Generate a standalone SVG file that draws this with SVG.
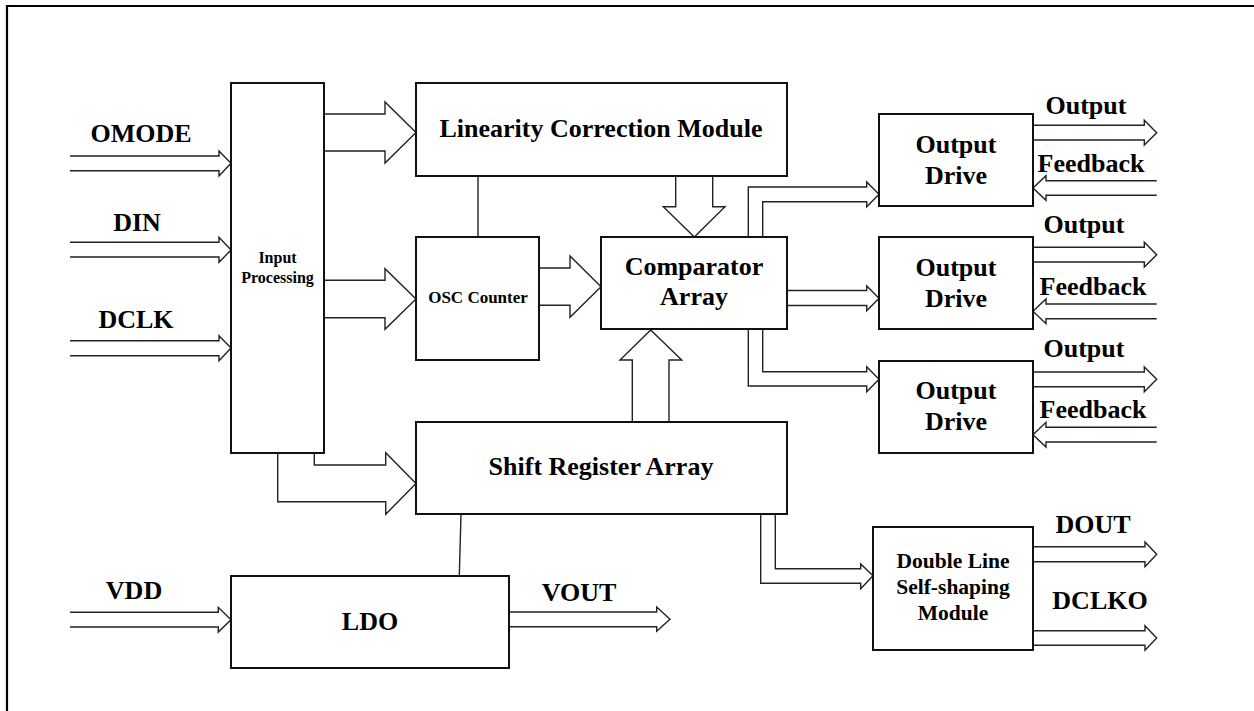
<svg xmlns="http://www.w3.org/2000/svg" width="1254" height="711" viewBox="0 0 1254 711">
<style>
.box{fill:#fff;stroke:#111;stroke-width:2}
.arr{fill:none;stroke:#222;stroke-width:1.4;stroke-linejoin:miter}
.ln{fill:none;stroke:#222;stroke-width:1.4}
text{font-family:"Liberation Serif","Times New Roman",serif;font-weight:bold;fill:#000;text-anchor:middle}
.t26{font-size:26px}
.t17{font-size:17px}
.t16{font-size:16px}
.t21{font-size:21.5px}
</style>
<rect width="1254" height="711" fill="#fff"/>
<path d="M7,711 V6 H1254" fill="none" stroke="#000" stroke-width="2.2"/>

<g id="connectors">
<path class="arr" d="M70,156 H219 V151 L231,163.3 L219,176 V170.7 H70"/>
<path class="arr" d="M70,242.3 H219 V237.3 L231,250 L219,262.3 V257 H70"/>
<path class="arr" d="M70,340.7 H219 V335.7 L231,348 L219,360.7 V355.7 H70"/>
<path class="arr" d="M324,114 H385 V102 L416,132.5 L385,163 V151 H324"/>
<path class="arr" d="M324,280.3 H385 V268.7 L416,299 L385,329.3 V317.7 H324"/>
<path class="arr" d="M314.3,453 V465 H385.7 V452.7 L416,483.5 L385.7,514.3 V501.7 H277.7 V453"/>
<path class="arr" d="M675.7,176 V206.7 H663.3 L694.3,237 L725,206.7 H712.7 V176"/>
<path class="arr" d="M539,268 H570 V256 L601,286.7 L570,317.3 V305.3 H539"/>
<path class="arr" d="M632.3,422 V360 H620 L650.7,330 L681.7,360 H669 V422"/>
<path class="arr" d="M748.3,237 V187 H866.7 V182 L879,194.3 L866.7,206.7 V201.7 H762.7 V237"/>
<path class="arr" d="M787,290.5 H866.7 V286 L879,298.3 L866.7,310.7 V305.5 H787"/>
<path class="arr" d="M762.7,329.3 V371.7 H866.7 V366.7 L879,379.3 L866.7,391.7 V386 H748.3 V329.3"/>
<path class="arr" d="M1033,125.3 H1144.3 V120.3 L1156.7,132.7 L1144.3,145 V140 H1033"/>
<path class="arr" d="M1033,247.3 H1144.3 V242.3 L1156.7,254.7 L1144.3,267 V262 H1033"/>
<path class="arr" d="M1033,372 H1144.3 V367 L1156.7,379.3 L1144.3,391.7 V386.7 H1033"/>
<path class="arr" d="M1156.7,180.7 H1046 V175.7 L1033,188 L1046,200.3 V195.3 H1156.7"/>
<path class="arr" d="M1156.7,304 H1046 V299 L1033,311.3 L1046,323.7 V318.7 H1156.7"/>
<path class="arr" d="M1156.7,427.3 H1046 V422.3 L1033,434.7 L1046,447 V442 H1156.7"/>
<path class="arr" d="M775.3,514.3 V568.7 H860.7 V564 L873,575.7 L860.7,588.7 V583.3 H760.7 V514.3"/>
<path class="arr" d="M1033,546.7 H1145 V542 L1156.7,554.3 L1145,566.7 V561.7 H1033"/>
<path class="arr" d="M1033,630.7 H1145 V625.7 L1156.7,638 L1145,650.3 V645.3 H1033"/>
<path class="arr" d="M70,612.3 H218.3 V607.3 L231,619.7 L218.3,632 V627 H70"/>
<path class="arr" d="M509,612 H656.7 V607 L670,619.3 L656.7,631.3 V626.7 H509"/>
<path class="ln" d="M478,176 V237"/>
<path class="ln" d="M461,514.3 L459.3,575.7"/>
</g>

<g id="labels">
<text class="t26" x="141" y="142">OMODE</text>
<text class="t26" x="137" y="231">DIN</text>
<text class="t26" x="136" y="328">DCLK</text>
<text class="t26" x="134" y="599">VDD</text>
<text class="t26" x="579" y="601">VOUT</text>
<text class="t26" x="1086" y="114">Output</text>
<text class="t26" x="1091" y="172">Feedback</text>
<text class="t26" x="1084" y="233">Output</text>
<text class="t26" x="1093" y="295">Feedback</text>
<text class="t26" x="1084" y="357">Output</text>
<text class="t26" x="1093" y="418">Feedback</text>
<text class="t26" x="1093" y="533">DOUT</text>
<text class="t26" x="1100" y="609">DCLKO</text>
</g>

<g id="input-processing">
<rect class="box" x="231" y="83" width="93" height="370"/>
<text class="t16" x="277.5" y="263">Input</text>
<text class="t16" x="277.5" y="283">Processing</text>
</g>
<g id="linearity-correction">
<rect class="box" x="416" y="83" width="371" height="93"/>
<text class="t26" x="601" y="137">Linearity Correction Module</text>
</g>
<g id="osc-counter">
<rect class="box" x="416" y="237" width="123" height="123"/>
<text class="t17" x="478" y="303">OSC Counter</text>
</g>
<g id="comparator-array">
<rect class="box" x="601" y="237" width="186" height="92"/>
<text class="t26" x="694" y="275">Comparator</text>
<text class="t26" x="694" y="305">Array</text>
</g>
<g id="shift-register">
<rect class="box" x="416" y="422" width="371" height="92"/>
<text class="t26" x="601" y="475">Shift Register Array</text>
</g>
<g id="ldo">
<rect class="box" x="231" y="576" width="278" height="92"/>
<text class="t26" x="370" y="630">LDO</text>
</g>
<g id="output-drive-1">
<rect class="box" x="879" y="114" width="154" height="92"/>
<text class="t26" x="956" y="153">Output</text>
<text class="t26" x="956" y="184">Drive</text>
</g>
<g id="output-drive-2">
<rect class="box" x="879" y="237" width="154" height="92"/>
<text class="t26" x="956" y="276">Output</text>
<text class="t26" x="956" y="307">Drive</text>
</g>
<g id="output-drive-3">
<rect class="box" x="879" y="361" width="154" height="92"/>
<text class="t26" x="956" y="399">Output</text>
<text class="t26" x="956" y="430">Drive</text>
</g>
<g id="double-line">
<rect class="box" x="873" y="527" width="160" height="123"/>
<text class="t21" x="953" y="568">Double Line</text>
<text class="t21" x="953" y="594">Self-shaping</text>
<text class="t21" x="953" y="620">Module</text>
</g>
</svg>
